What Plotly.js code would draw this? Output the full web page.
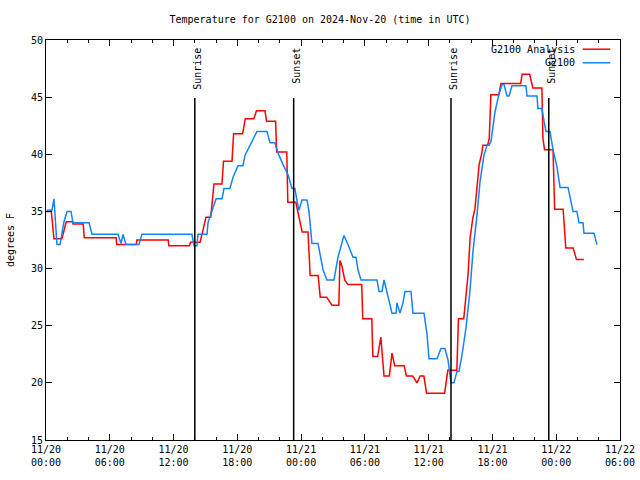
<!DOCTYPE html>
<html>
<head>
<meta charset="utf-8">
<script src="https://cdn.plot.ly/plotly-3.0.1.min.js"></script>
<style>html,body{margin:0;padding:0;background:#fff}#chart{width:640px;height:480px}</style>
</head>
<body>
<div id="chart"></div>
<script>
// hours after 2024-11-20 00:00 UTC
const analysisHours = [0,0.5,0.75,1.5,1.9,2.5,2.55,3.5,3.6,6.6,6.65,8.5,8.55,11.5,11.55,13.5,13.6,14.5,14.8,15.05,15.5,15.7,15.8,16.55,16.7,17.5,17.65,18.5,18.75,19.55,19.8,20.6,20.75,21.6,21.7,22.65,22.75,23.5,23.8,24.1,24.65,24.75,24.85,25.6,25.8,26.4,26.9,27.55,27.65,27.85,28.1,28.4,29.7,29.8,30.65,30.75,31.2,31.5,31.8,32.3,32.55,32.8,33.7,33.9,34.5,34.9,35.2,35.55,35.8,37.5,37.8,38.65,38.8,39.3,39.7,39.9,40.15,40.35,40.75,41.0,41.1,41.55,41.7,41.85,42.6,42.8,44.65,44.8,45.5,45.8,46.65,46.75,46.9,47.7,47.85,48.65,48.9,49.6,49.9,50.6];
const analysisTemps = [35.0,35.0,32.6,32.6,34.1,34.1,33.9,33.9,32.7,32.7,32.1,32.1,32.5,32.5,32.0,32.0,32.3,32.3,33.5,34.5,34.5,36.1,37.4,37.4,39.4,39.4,41.8,41.8,43.1,43.1,43.8,43.8,42.9,42.9,40.2,40.2,35.8,35.8,34.6,33.2,33.2,31.3,29.4,29.4,27.5,27.5,26.8,26.8,30.7,30.2,29.0,28.6,28.6,25.6,25.6,22.3,22.3,24.0,20.6,20.6,22.6,21.5,21.5,20.6,20.6,20.0,20.6,20.6,19.1,19.1,21.1,21.1,25.6,25.6,29.4,32.7,34.4,35.2,39.1,40.1,40.8,40.8,41.4,45.2,45.2,46.2,46.2,47.0,47.0,45.8,45.8,41.4,40.4,40.4,35.2,35.2,31.8,31.8,30.8,30.8];

const stationHours = [0.09,0.56,0.75,1.03,1.32,1.69,1.98,2.35,2.54,4.05,4.33,6.77,7.06,7.24,7.53,8.75,9.03,13.73,13.92,14.2,14.3,15.15,15.24,15.6,16.0,16.56,16.74,17.3,17.6,18.06,18.53,18.72,19.38,19.85,20.79,21.07,21.54,21.83,22.3,22.77,23.14,23.42,23.6,23.8,24.08,24.55,24.74,25.02,25.59,25.87,26.06,26.43,27.09,27.47,28.03,28.41,28.88,29.16,29.35,29.63,31.14,31.33,31.61,31.8,32.08,32.55,32.93,33.02,33.3,33.58,33.77,34.34,34.52,35.56,35.84,36.03,36.78,37.16,37.53,37.82,38.1,38.38,38.66,38.85,39.13,39.51,39.88,40.17,40.55,40.83,41.2,41.49,41.67,41.86,42.24,42.62,42.9,43.09,43.37,43.56,43.84,45.15,45.25,46.19,46.28,46.66,46.85,47.04,47.41,47.7,48.07,48.36,49.11,49.58,49.95,50.14,50.52,50.61,51.55,51.83];
const stationTemps = [35.1,35.1,36.1,32.1,32.1,34.1,35.0,35.0,34.0,34.0,33.0,33.0,32.2,33.0,32.1,32.1,33.0,33.0,32.0,32.0,33.0,33.0,34.0,35.1,36.1,36.1,37.0,37.0,38.0,39.0,39.0,39.9,41.1,42.0,42.0,41.0,41.0,40.1,39.1,38.2,37.0,37.0,36.0,35.1,36.0,36.0,35.0,32.2,32.2,31.0,29.9,29.0,29.0,31.0,32.9,32.1,31.0,31.0,29.9,29.0,29.0,28.0,28.0,29.0,28.0,26.1,26.1,27.0,26.1,27.0,28.0,28.0,26.1,26.1,24.3,22.1,22.1,23.0,23.0,22.0,20.0,20.0,21.0,21.0,22.4,24.8,28.0,31.5,34.7,37.6,39.9,40.8,40.8,41.1,43.7,45.3,46.1,46.1,45.1,45.1,46.0,46.0,45.1,45.1,44.0,44.0,42.9,42.0,42.0,40.4,38.9,37.1,37.1,35.0,35.0,34.0,34.0,33.1,33.1,32.1];

const sunLabels = ['Sunrise','Sunset','Sunrise','Sunset'];
const sunHours = [14.0, 23.3, 38.1, 47.3];

const tickHours = [0,6,12,18,24,30,36,42,48,54];
const tickLabels = ['11/20<br>00:00','11/20<br>06:00','11/20<br>12:00','11/20<br>18:00','11/21<br>00:00','11/21<br>06:00','11/21<br>12:00','11/21<br>18:00','11/22<br>00:00','11/22<br>06:00'];

const seriesNames = ['G2100 Analysis','G2100'];
const seriesColors = ['#ff0000','#1583f5'];

const FONT = 'DejaVu Sans Mono, monospace';

const traces = [
  {x: analysisHours, y: analysisTemps, mode:'lines', name: seriesNames[0], line:{color:seriesColors[0], width:1.5}, showlegend:false},
  {x: stationHours, y: stationTemps, mode:'lines', name: seriesNames[1], line:{color:seriesColors[1], width:1.5}, showlegend:false}
];

const shapes = sunHours.map(h => ({type:'line', xref:'x', yref:'paper', x0:h, x1:h, y0:0, y1:0.855, line:{color:'#000', width:1.5}}));
const annotations = sunHours.map((h,i) => ({xref:'x', yref:'paper', x:h, y:0.985, text:sunLabels[i], textangle:-90, showarrow:false, xanchor:'center', yanchor:'top', xshift:2, font:{family:FONT, size:10, color:'#000'}}));

// custom legend (gnuplot style: text then sample)
seriesNames.forEach((n,i) => {
  const yp = 0.977 - i*0.034;
  annotations.push({xref:'paper', yref:'paper', x:0.925, y:yp, text:n, showarrow:false, xanchor:'right', yanchor:'middle', font:{family:FONT, size:10, color:'#000'}});
  shapes.push({type:'line', xref:'paper', yref:'paper', x0:0.935, x1:0.983, y0:yp, y1:yp, line:{color:seriesColors[i], width:1.5}});
});

const layout = {
  width:640, height:480,
  margin:{l:46, r:20, t:40, b:40},
  paper_bgcolor:'#fff', plot_bgcolor:'#fff',
  font:{family:FONT, size:10, color:'#000'},
  title:{text:'Temperature for G2100 on 2024-Nov-20 (time in UTC)', x:0.5, xanchor:'center', y:0.96, yanchor:'middle', font:{family:FONT, size:10, color:'#000'}},
  xaxis:{range:[0,54], tickvals:tickHours, ticktext:tickLabels, ticks:'inside', ticklen:6, tickcolor:'#000', showline:true, linecolor:'#000', linewidth:1, mirror:'ticks', showgrid:false, zeroline:false, tickfont:{family:FONT, size:10},
         minor:{dtick:2, tick0:0, ticks:'inside', ticklen:3, tickcolor:'#000', showgrid:false}},
  yaxis:{range:[15,50], dtick:5, tick0:15, ticks:'inside', ticklen:6, tickcolor:'#000', showline:true, linecolor:'#000', linewidth:1, mirror:'ticks', showgrid:false, zeroline:false, tickfont:{family:FONT, size:10},
         title:{text:'degrees F', font:{family:FONT, size:10}, standoff:14}},
  shapes: shapes,
  annotations: annotations
};

Plotly.newPlot('chart', traces, layout, {staticPlot:true, displayModeBar:false});
</script>
</body>
</html>
